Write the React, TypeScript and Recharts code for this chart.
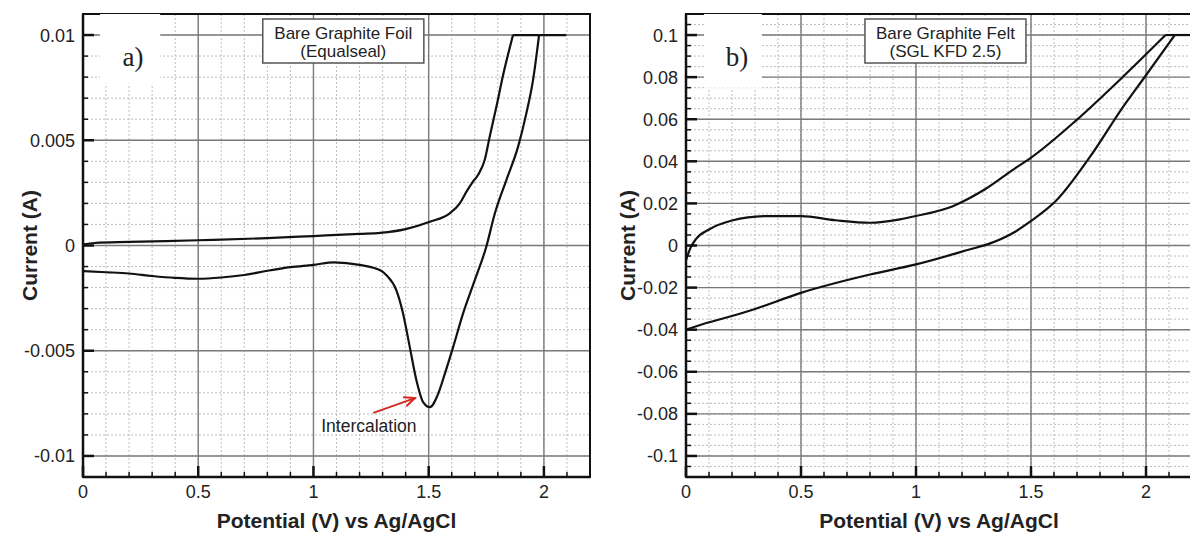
import React from "react";
import {
  LineChart,
  Line,
  XAxis,
  YAxis,
  CartesianGrid,
  ReferenceArea,
  ReferenceLine,
  ReferenceDot,
} from "recharts";

const FONT = "Arial, 'Liberation Sans', Helvetica, sans-serif";
const SERIF = "'Liberation Serif', 'DejaVu Serif', serif";

// a) bare graphite foil — potential (V) vs current (A)
const foilForward = [
  { v: 0, i: 0.00005 }, { v: 0.05, i: 0.00012 }, { v: 0.2, i: 0.00017 },
  { v: 0.5, i: 0.00025 }, { v: 0.8, i: 0.00035 }, { v: 1.0, i: 0.00045 },
  { v: 1.2, i: 0.00055 }, { v: 1.29, i: 0.0006 }, { v: 1.4, i: 0.00078 },
  { v: 1.505, i: 0.00113 }, { v: 1.59, i: 0.00152 }, { v: 1.635, i: 0.002 },
  { v: 1.664, i: 0.00256 }, { v: 1.69, i: 0.003 }, { v: 1.714, i: 0.00335 },
  { v: 1.743, i: 0.00406 }, { v: 1.765, i: 0.00518 }, { v: 1.794, i: 0.0066 },
  { v: 1.823, i: 0.0081 }, { v: 1.866, i: 0.01 },
];
// instrument current limit, flat top
const foilLimit = [{ v: 1.866, i: 0.01 }, { v: 2.097, i: 0.01 }];
const foilReturn = [
  { v: 0, i: -0.00122 }, { v: 0.1, i: -0.00127 }, { v: 0.2, i: -0.00133 },
  { v: 0.3, i: -0.00145 }, { v: 0.4, i: -0.00154 }, { v: 0.5, i: -0.00158 },
  { v: 0.6, i: -0.00152 }, { v: 0.7, i: -0.0014 }, { v: 0.8, i: -0.0012 },
  { v: 0.9, i: -0.00103 }, { v: 1.0, i: -0.00092 }, { v: 1.09, i: -0.0008 },
  { v: 1.2, i: -0.00092 }, { v: 1.29, i: -0.00118 }, { v: 1.317, i: -0.00141 },
  { v: 1.36, i: -0.00213 }, { v: 1.389, i: -0.00324 }, { v: 1.418, i: -0.00483 },
  { v: 1.447, i: -0.00641 }, { v: 1.476, i: -0.00744 }, { v: 1.505, i: -0.00768 },
  { v: 1.541, i: -0.00705 }, { v: 1.57, i: -0.0061 }, { v: 1.606, i: -0.00483 },
  { v: 1.649, i: -0.00324 }, { v: 1.7, i: -0.00165 }, { v: 1.75, i: -0.00006 },
  { v: 1.787, i: 0.00152 }, { v: 1.837, i: 0.00311 }, { v: 1.888, i: 0.0047 },
  { v: 1.924, i: 0.00629 }, { v: 1.953, i: 0.00787 }, { v: 1.979, i: 0.01 },
];

// b) bare graphite felt
const feltUpper = [
  { v: 0, i: -0.007 }, { v: 0.02, i: -0.001 }, { v: 0.043, i: 0.003 },
  { v: 0.1, i: 0.0076 }, { v: 0.2, i: 0.0119 }, { v: 0.35, i: 0.014 },
  { v: 0.5, i: 0.014 }, { v: 0.65, i: 0.012 }, { v: 0.8, i: 0.0108 },
  { v: 0.93, i: 0.0124 }, { v: 1.0, i: 0.014 }, { v: 1.16, i: 0.0187 },
  { v: 1.3, i: 0.0267 }, { v: 1.435, i: 0.037 }, { v: 1.496, i: 0.0414 },
  { v: 1.699, i: 0.0597 }, { v: 1.901, i: 0.0803 }, { v: 2.085, i: 0.1 },
];
const feltLimit = [{ v: 2.085, i: 0.1 }, { v: 2.2, i: 0.1 }];
const feltLower = [
  { v: 0, i: -0.04 }, { v: 0.1, i: -0.0365 }, { v: 0.2, i: -0.0335 },
  { v: 0.29, i: -0.0305 }, { v: 0.5, i: -0.0225 }, { v: 0.8, i: -0.0138 },
  { v: 1.0, i: -0.009 }, { v: 1.232, i: -0.0019 }, { v: 1.322, i: 0.001 },
  { v: 1.435, i: 0.0068 }, { v: 1.496, i: 0.0113 }, { v: 1.612, i: 0.0216 },
  { v: 1.757, i: 0.0422 }, { v: 1.901, i: 0.066 }, { v: 1.996, i: 0.0803 },
  { v: 2.125, i: 0.1 },
];

const xMajor = [0, 0.5, 1, 1.5, 2];
const xLabels = ["0", "0.5", "1", "1.5", "2"];
const foilYMajor = [-0.01, -0.005, 0, 0.005, 0.01];
const foilYLabels = ["-0.01", "-0.005", "0", "0.005", "0.01"];
const feltYMajor = [-0.1, -0.08, -0.06, -0.04, -0.02, 0, 0.02, 0.04, 0.06, 0.08, 0.1];
const feltYLabels = ["-0.1", "-0.08", "-0.06", "-0.04", "-0.02", "0", "0.02", "0.04", "0.06", "0.08", "0.1"];

// minor grid / tick positions
function steps(from: number, to: number, step: number) {
  const out: number[] = [];
  const n = Math.round((to - from) / step);
  for (let k = 0; k <= n; k++) out.push(Math.round((from + k * step) * 1e6) / 1e6);
  return out;
}
const xMinor = steps(0, 2.1, 0.1);
const foilYMinor = steps(-0.01, 0.01, 0.001);
const feltYMinor = steps(-0.105, 0.105, 0.005);

const near = (a: number, b: number) => Math.abs(a - b) < 1e-7;

function makeXTick(majors: number[], labels: string[]) {
  return (props: any) => {
    const { x, y, payload } = props;
    const idx = majors.findIndex((m) => near(m, payload.value));
    const major = idx >= 0;
    return (
      <g>
        <line x1={x} x2={x} y1={y} y2={y - (major ? 11 : 5)} stroke="#111" strokeWidth={major ? 2.5 : 1.5} />
        {major && (
          <text x={x} y={y + 21} textAnchor="middle" fontSize={18} fill="#222" fontFamily={FONT}>
            {labels[idx]}
          </text>
        )}
      </g>
    );
  };
}

function makeYTick(majors: number[], labels: string[]) {
  return (props: any) => {
    const { x, y, payload } = props;
    const idx = majors.findIndex((m) => near(m, payload.value));
    const major = idx >= 0;
    return (
      <g>
        <line x1={x} x2={x + (major ? 11 : 5)} y1={y} y2={y} stroke="#111" strokeWidth={major ? 2.5 : 1.5} />
        {major && (
          <text x={x - 8} y={y} dy="0.36em" textAnchor="end" fontSize={18} fill="#222" fontFamily={FONT}>
            {labels[idx]}
          </text>
        )}
      </g>
    );
  };
}

function ArrowShape(props: any) {
  const { x1, y1, x2, y2 } = props;
  const ang = Math.atan2(y2 - y1, x2 - x1);
  const len = 11;
  const a1 = ang + Math.PI - 0.42;
  const a2 = ang + Math.PI + 0.42;
  return (
    <g stroke="#d42a22" strokeWidth={2} fill="none" strokeLinecap="round">
      <line x1={x1} y1={y1} x2={x2} y2={y2} />
      <polyline
        points={`${x2 + len * Math.cos(a1)},${y2 + len * Math.sin(a1)} ${x2},${y2} ${x2 + len * Math.cos(a2)},${y2 + len * Math.sin(a2)}`}
      />
    </g>
  );
}

type Pt = { v: number; i: number };

interface PanelProps {
  forward: Pt[];
  limit: Pt[];
  back: Pt[];
  yDomain: [number, number];
  yMajor: number[];
  yLabels: string[];
  yMinor: number[];
  legend: [string, string];
  legendBox: [number, number, number, number];
  tag: string;
  tagBox: [number, number, number, number];
  width: number;
  marginLeft: number;
  marginRight: number;
  titleOffset: number;
  annotate?: boolean;
}

function Panel(p: PanelProps) {
  const curve = (data: Pt[], type: "monotone" | "linear") => (
    <Line
      data={data}
      dataKey="i"
      type={type}
      stroke="#111"
      strokeWidth={2.2}
      dot={false}
      activeDot={false}
      isAnimationActive={false}
    />
  );
  return (
    <LineChart
      width={p.width}
      height={534}
      margin={{ top: 14, right: p.marginRight, bottom: 27, left: p.marginLeft }}
    >
      <CartesianGrid
        horizontalValues={p.yMinor}
        verticalValues={xMinor}
        stroke="#bdbdbd"
        strokeDasharray="2 2"
        strokeWidth={1}
      />
      <CartesianGrid
        horizontalValues={p.yMajor}
        verticalValues={xMajor}
        stroke="#7a7a7a"
        strokeWidth={1.4}
      />
      <XAxis
        type="number"
        dataKey="v"
        domain={[0, 2.2]}
        ticks={xMinor}
        interval={0}
        allowDataOverflow
        height={30}
        tickSize={0}
        tickMargin={0}
        axisLine={{ stroke: "#111", strokeWidth: 2.5 }}
        tick={makeXTick(xMajor, xLabels)}
        label={(lp: any) => {
          const vb = lp.viewBox;
          return (
            <text
              x={vb.x + vb.width / 2}
              y={528}
              textAnchor="middle"
              fontSize={21}
              fontWeight="bold"
              fill="#222"
              fontFamily={FONT}
            >
              Potential (V) vs Ag/AgCl
            </text>
          );
        }}
      />
      <YAxis
        type="number"
        dataKey="i"
        domain={p.yDomain}
        ticks={p.yMinor}
        interval={0}
        allowDataOverflow
        width={40}
        tickSize={0}
        tickMargin={0}
        axisLine={{ stroke: "#111", strokeWidth: 2.5 }}
        tick={makeYTick(p.yMajor, p.yLabels)}
        label={(lp: any) => {
          const vb = lp.viewBox;
          const cx = vb.x + vb.width - p.titleOffset;
          const cy = vb.y + vb.height / 2;
          return (
            <text
              x={cx}
              y={cy}
              transform={`rotate(-90 ${cx} ${cy})`}
              textAnchor="middle"
              dy="0.36em"
              fontSize={21}
              fontWeight="bold"
              fill="#222"
              fontFamily={FONT}
            >
              Current (A)
            </text>
          );
        }}
      />
      <ReferenceArea
        x1={0}
        x2={2.2}
        y1={p.yDomain[0]}
        y2={p.yDomain[1]}
        fill="none"
        fillOpacity={0}
        stroke="#111"
        strokeWidth={2}
      />
      <ReferenceArea
        x1={p.tagBox[0]}
        x2={p.tagBox[1]}
        y1={p.tagBox[2]}
        y2={p.tagBox[3]}
        fill="#fff"
        fillOpacity={1}
        stroke="none"
        label={(lp: any) => {
          const vb = lp.viewBox;
          return (
            <text x={vb.x + 33} y={vb.y + 52} textAnchor="middle" fontSize={27} fill="#222" fontFamily={SERIF}>
              {p.tag}
            </text>
          );
        }}
      />
      <ReferenceArea
        x1={p.legendBox[0]}
        x2={p.legendBox[1]}
        y1={p.legendBox[2]}
        y2={p.legendBox[3]}
        fill="#fff"
        fillOpacity={1}
        stroke="#555"
        strokeWidth={1.5}
        label={(lp: any) => {
          const vb = lp.viewBox;
          const cx = vb.x + vb.width / 2;
          return (
            <text textAnchor="middle" fontSize={17} fill="#222" fontFamily={FONT}>
              <tspan x={cx} y={vb.y + 20}>{p.legend[0]}</tspan>
              <tspan x={cx} y={vb.y + 38}>{p.legend[1]}</tspan>
            </text>
          );
        }}
      />
      {p.annotate && (
        <ReferenceLine
          segment={[
            { x: 1.263, y: -0.00794 },
            { x: 1.44, y: -0.00725 },
          ]}
          shape={ArrowShape}
        />
      )}
      {p.annotate && (
        <ReferenceDot
          x={1.245}
          y={-0.00862}
          r={1}
          fill="none"
          stroke="none"
          label={(lp: any) => {
            const vb = lp.viewBox;
            return (
              <text x={vb.x} y={vb.y} dy="0.36em" textAnchor="middle" fontSize={17.5} fill="#222" fontFamily={FONT}>
                Intercalation
              </text>
            );
          }}
        />
      )}
      {curve(p.forward, "monotone")}
      {curve(p.limit, "linear")}
      {curve(p.back, "monotone")}
    </LineChart>
  );
}

export default function App() {
  return (
    <div
      style={{
        position: "absolute",
        left: 0,
        top: 0,
        width: 1190,
        height: 534,
        overflow: "hidden",
        background: "#fff",
      }}
    >
      <div style={{ position: "absolute", left: 0, top: 0 }}>
        <Panel
          forward={foilForward}
          limit={foilLimit}
          back={foilReturn}
          yDomain={[-0.011, 0.011]}
          yMajor={foilYMajor}
          yLabels={foilYLabels}
          yMinor={foilYMinor}
          legend={["Bare Graphite Foil", "(Equalseal)"]}
          legendBox={[0.78, 1.479, 0.00867, 0.01076]}
          tag="a)"
          tagBox={[0.074, 0.335, 0.0077, 0.011]}
          width={600}
          marginLeft={43}
          marginRight={10}
          titleOffset={54}
          annotate
        />
      </div>
      <div style={{ position: "absolute", left: 600, top: 0 }}>
        <Panel
          forward={feltUpper}
          limit={feltLimit}
          back={feltLower}
          yDomain={[-0.11, 0.11]}
          yMajor={feltYMajor}
          yLabels={feltYLabels}
          yMinor={feltYMinor}
          legend={["Bare Graphite Felt", "(SGL KFD 2.5)"]}
          legendBox={[0.778, 1.478, 0.0867, 0.1076]}
          tag="b)"
          tagBox={[0.078, 0.33, 0.075, 0.11]}
          width={612}
          marginLeft={46}
          marginRight={20}
          titleOffset={59}
        />
      </div>
    </div>
  );
}
